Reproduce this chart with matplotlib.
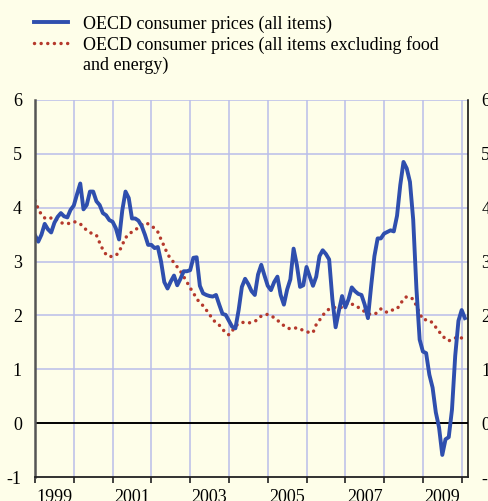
import numpy as np
import matplotlib
matplotlib.use('Agg')
import matplotlib.pyplot as plt
from matplotlib.lines import Line2D
from matplotlib.ticker import FixedLocator, NullFormatter, FixedFormatter

# Monthly data, Jan 1999 onwards (% change over a year)
start_year = 1999
all_items = [
    3.49, 3.37, 3.50, 3.70, 3.60, 3.54, 3.72, 3.83, 3.90, 3.84, 3.82, 3.96,  # 1999
    4.04, 4.25, 4.45, 3.97, 4.05, 4.30, 4.30, 4.12, 4.05, 3.90, 3.86, 3.77,  # 2000
    3.74, 3.62, 3.41, 3.95, 4.30, 4.18, 3.80, 3.80, 3.76, 3.66, 3.50, 3.31,  # 2001
    3.31, 3.25, 3.27, 3.00, 2.62, 2.50, 2.63, 2.74, 2.56, 2.68, 2.82, 2.82,  # 2002
    2.84, 3.07, 3.08, 2.55, 2.41, 2.38, 2.36, 2.35, 2.38, 2.20, 2.03, 2.01,  # 2003
    1.90, 1.79, 1.76, 2.10, 2.53, 2.68, 2.58, 2.45, 2.38, 2.76, 2.94, 2.74,  # 2004
    2.55, 2.47, 2.62, 2.72, 2.38, 2.20, 2.48, 2.67, 3.24, 2.94, 2.53, 2.56,  # 2005
    2.90, 2.72, 2.55, 2.72, 3.10, 3.21, 3.14, 3.04, 2.30, 1.78, 2.08, 2.36,  # 2006
    2.15, 2.30, 2.52, 2.45, 2.40, 2.38, 2.20, 1.95, 2.55, 3.10, 3.43, 3.43,  # 2007
    3.52, 3.55, 3.58, 3.56, 3.85, 4.42, 4.85, 4.73, 4.48, 3.78, 2.50, 1.55,  # 2008
    1.33, 1.30, 0.90, 0.66, 0.20, -0.08, -0.59, -0.30, -0.26, 0.25, 1.25, 1.90,  # 2009
    2.10, 1.95,  # 2010
]
core = [
    4.13, 3.98, 3.87, 3.81, 3.79, 3.81, 3.82, 3.76, 3.72, 3.71, 3.70, 3.72,  # 1999
    3.74, 3.73, 3.70, 3.64, 3.58, 3.54, 3.51, 3.49, 3.35, 3.22, 3.13, 3.09,  # 2000
    3.10, 3.11, 3.18, 3.31, 3.44, 3.51, 3.55, 3.59, 3.63, 3.68, 3.72, 3.70,  # 2001
    3.66, 3.62, 3.55, 3.41, 3.28, 3.14, 3.05, 2.98, 2.90, 2.82, 2.72, 2.62,  # 2002
    2.51, 2.42, 2.31, 2.24, 2.18, 2.10, 2.02, 1.92, 1.87, 1.82, 1.75, 1.67,  # 2003
    1.64, 1.71, 1.80, 1.85, 1.87, 1.87, 1.86, 1.87, 1.89, 1.93, 1.99, 2.01,  # 2004
    2.02, 1.99, 1.96, 1.91, 1.86, 1.81, 1.77, 1.75, 1.76, 1.77, 1.75, 1.72,  # 2005
    1.70, 1.68, 1.68, 1.83, 1.91, 2.00, 2.07, 2.12, 2.14, 2.15, 2.15, 2.15,  # 2006
    2.19, 2.24, 2.21, 2.19, 2.15, 2.11, 2.07, 2.03, 2.02, 2.02, 2.06, 2.12,  # 2007
    2.07, 2.06, 2.10, 2.10, 2.12, 2.21, 2.30, 2.35, 2.34, 2.30, 2.18, 2.04,  # 2008
    1.92, 1.92, 1.91, 1.86, 1.78, 1.70, 1.63, 1.56, 1.53, 1.55, 1.58, 1.61,  # 2009
    1.58, 1.54,  # 2010
]
label_all = 'OECD consumer prices (all items)'
label_core = ['OECD consumer prices (all items excluding food', 'and energy)']
year_labels = ['1999', '2001', '2003', '2005', '2007', '2009']
y_ticks = [-1, 0, 1, 2, 3, 4, 5, 6]

bg = '#fefee9'
grid_col = '#b9bee9'
blue = '#2f4fae'
red = '#b5392c'

plt.rcParams['font.family'] = ['Liberation Serif', 'DejaVu Serif']
plt.rcParams['font.size'] = 13
plt.rcParams['axes.unicode_minus'] = False

months = start_year + np.arange(len(all_items)) / 12.0

fig = plt.figure(figsize=(4.89, 5.01), dpi=100, facecolor=bg)
ax = fig.add_axes([35 / 489, 24 / 501, 433 / 489, 377 / 501], facecolor=bg)

# grid
for yr in range(2000, 2011):
    ax.axvline(yr, color=grid_col, lw=1.1, zorder=1)
for v in range(1, 7):
    ax.axhline(v, color=grid_col, lw=1.1, zorder=1)
ax.axhline(0, color='black', lw=1.4, zorder=2)

ax.plot(months, core, color=red, lw=2.5, linestyle=(0, (0.01, 1.9)),
        dash_capstyle='round', zorder=3)
ax.plot(months, all_items, color=blue, lw=2.8, solid_joinstyle='round', zorder=4)

ax.set_xlim(1999, 2010.163)
ax.set_ylim(-1, 6)

ax.xaxis.set_major_locator(FixedLocator(list(range(1999, 2011))))
ax.xaxis.set_major_formatter(NullFormatter())
ax.xaxis.set_minor_locator(FixedLocator([int(y) + 0.5 for y in year_labels]))
ax.xaxis.set_minor_formatter(FixedFormatter(year_labels))
ax.tick_params(axis='x', which='major', direction='out', length=4, width=1.2, color='#222222')
ax.tick_params(axis='x', which='minor', length=0, pad=8.5, labelsize=13)

ax.set_yticks(y_ticks)
ax.tick_params(axis='y', length=0, pad=9.5, labelsize=13, right=True, labelright=True)

ax.spines['top'].set_visible(False)
ax.spines['left'].set_color('#555555')
ax.spines['left'].set_linewidth(1.8)
ax.spines['right'].set_color('black')
ax.spines['right'].set_linewidth(1.1)
ax.spines['bottom'].set_color('#222222')
ax.spines['bottom'].set_linewidth(1.3)
for s in ax.spines.values():
    s.set_zorder(5)

# legend drawn at the top of the figure
def fy(px):
    return 1 - px / 501

fig.add_artist(Line2D([34 / 489, 68 / 489], [fy(22), fy(22)], color=blue, lw=2.8))
fig.add_artist(Line2D([34 / 489, 68 / 489], [fy(43), fy(43)], color=red, lw=2.5,
                      linestyle=(0, (0.01, 1.9)), dash_capstyle='round'))
fig.text(83 / 489, fy(28.5), label_all, va='baseline', ha='left', fontsize=13)
fig.text(83 / 489, fy(49.5), label_core[0], va='baseline', ha='left', fontsize=13)
fig.text(83 / 489, fy(69.5), label_core[1], va='baseline', ha='left', fontsize=13)

fig.savefig('out.png', dpi=100, facecolor=bg)
